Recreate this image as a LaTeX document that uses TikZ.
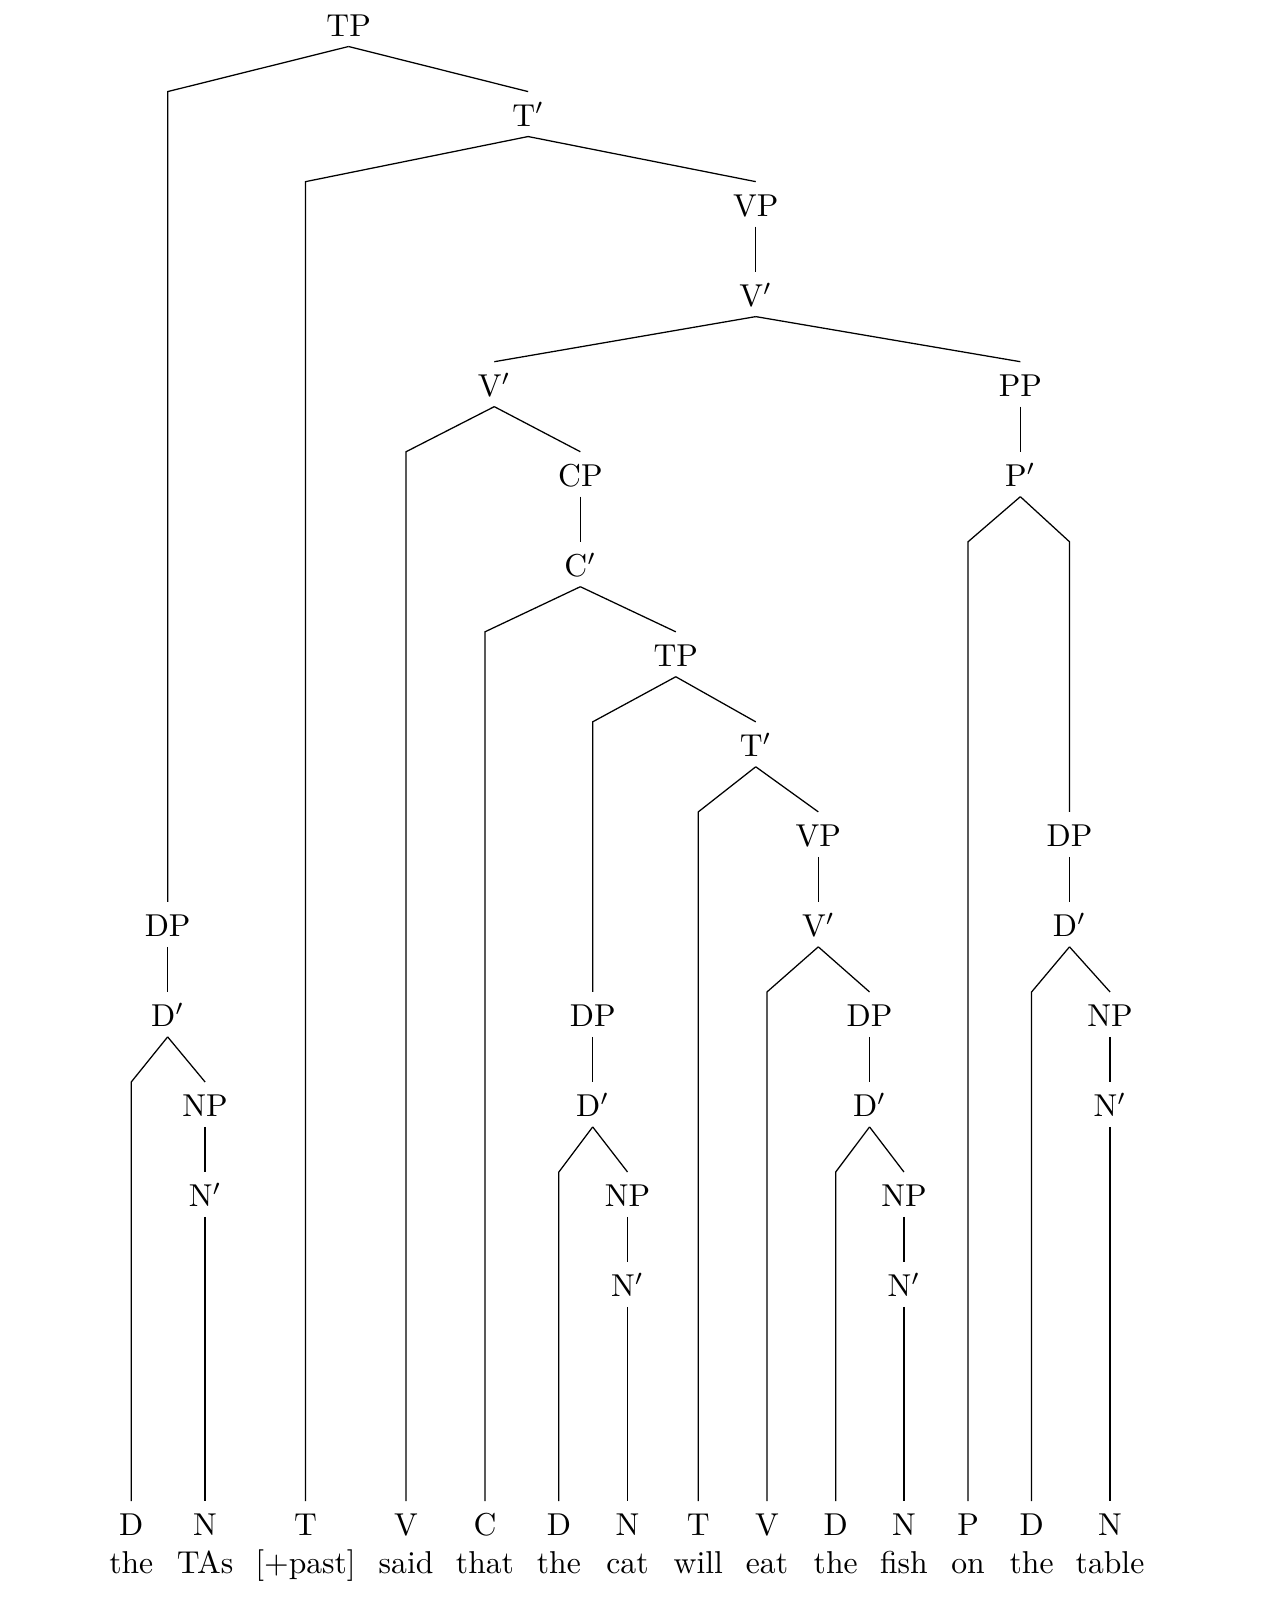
\documentclass[tikz,border=0pt]{standalone}
\usepackage{tikz}
\tikzset{
  cat/.style={anchor=base,inner sep=3pt,text height=7.8pt,text depth=0pt},
  word/.style={anchor=base,inner sep=0pt},
  branch/.style={line width=.4pt}
}
\begin{document}
\begin{tikzpicture}[x=1cm,y=1cm]
\path[use as bounding box] (0,0) rectangle (14.02,-17.86);
% phrase nodes, one level per cm
\node[cat] (tp) at (3.872,-0.404) {TP};
\node[cat] (tbar) at (5.866,-1.404) {T$'$};
\node[cat] (vp) at (8.394,-2.404) {VP};
\node[cat] (vbar) at (8.394,-3.404) {V$'$};
\node[cat] (vbarl) at (5.490,-4.404) {V$'$};
\node[cat] (pp) at (11.333,-4.404) {PP};
\node[cat] (cp) at (6.446,-5.404) {CP};
\node[cat] (pbar) at (11.333,-5.404) {P$'$};
\node[cat] (cbar) at (6.446,-6.404) {C$'$};
\node[cat] (tpe) at (7.506,-7.404) {TP};
\node[cat] (tbare) at (8.394,-8.404) {T$'$};
\node[cat] (vpe) at (9.089,-9.404) {VP};
\node[cat] (dpt) at (11.879,-9.404) {DP};
\node[cat] (dpa) at (1.862,-10.404) {DP};
\node[cat] (vbare) at (9.089,-10.404) {V$'$};
\node[cat] (dbart) at (11.879,-10.404) {D$'$};
\node[cat] (dbara) at (1.862,-11.404) {D$'$};
\node[cat] (dpc) at (6.583,-11.404) {DP};
\node[cat] (dpf) at (9.658,-11.404) {DP};
\node[cat] (npt) at (12.329,-11.404) {NP};
\node[cat] (npa) at (2.278,-12.404) {NP};
\node[cat] (dbarc) at (6.583,-12.404) {D$'$};
\node[cat] (dbarf) at (9.658,-12.404) {D$'$};
\node[cat] (nbart) at (12.329,-12.404) {N$'$};
\node[cat] (nbara) at (2.278,-13.404) {N$'$};
\node[cat] (npc) at (6.970,-13.404) {NP};
\node[cat] (npf) at (10.040,-13.404) {NP};
\node[cat] (nbarc) at (6.970,-14.404) {N$'$};
\node[cat] (nbarf) at (10.040,-14.404) {N$'$};
% leaves
\node[cat] (l1) at (1.458,-17.06) {D};
\node[word] (w1) at (1.458,-17.48) {the};
\node[cat] (l2) at (2.278,-17.06) {N};
\node[word] (w2) at (2.278,-17.48) {TAs};
\node[cat] (l3) at (3.394,-17.06) {T};
\node[word] (w3) at (3.394,-17.48) {[+past]};
\node[cat] (l4) at (4.510,-17.06) {V};
\node[word] (w4) at (4.510,-17.48) {said};
\node[cat] (l5) at (5.387,-17.06) {C};
\node[word] (w5) at (5.387,-17.48) {that};
\node[cat] (l6) at (6.207,-17.06) {D};
\node[word] (w6) at (6.207,-17.48) {the};
\node[cat] (l7) at (6.970,-17.06) {N};
\node[word] (w7) at (6.970,-17.48) {cat};
\node[cat] (l8) at (7.756,-17.06) {T};
\node[word] (w8) at (7.756,-17.48) {will};
\node[cat] (l9) at (8.519,-17.06) {V};
\node[word] (w9) at (8.519,-17.48) {eat};
\node[cat] (l10) at (9.282,-17.06) {D};
\node[word] (w10) at (9.282,-17.48) {the};
\node[cat] (l11) at (10.040,-17.06) {N};
\node[word] (w11) at (10.040,-17.48) {fish};
\node[cat] (l12) at (10.752,-17.06) {P};
\node[word] (w12) at (10.752,-17.48) {on};
\node[cat] (l13) at (11.458,-17.06) {D};
\node[word] (w13) at (11.458,-17.48) {the};
\node[cat] (l14) at (12.329,-17.06) {N};
\node[word] (w14) at (12.329,-17.48) {table};
% branches: straight to the next level, bent when the child sits lower
\draw[branch] (tp.south) -- ([yshift=-1cm]tp.north -| dpa) -- (dpa.north);
\draw[branch] (tp.south) -- (tbar.north);
\draw[branch] (tbar.south) -- ([yshift=-1cm]tbar.north -| l3) -- (l3.north);
\draw[branch] (tbar.south) -- (vp.north);
\draw[branch] (vp.south) -- (vbar.north);
\draw[branch] (vbar.south) -- (vbarl.north);
\draw[branch] (vbar.south) -- (pp.north);
\draw[branch] (vbarl.south) -- ([yshift=-1cm]vbarl.north -| l4) -- (l4.north);
\draw[branch] (vbarl.south) -- (cp.north);
\draw[branch] (cp.south) -- (cbar.north);
\draw[branch] (cbar.south) -- ([yshift=-1cm]cbar.north -| l5) -- (l5.north);
\draw[branch] (cbar.south) -- (tpe.north);
\draw[branch] (tpe.south) -- ([yshift=-1cm]tpe.north -| dpc) -- (dpc.north);
\draw[branch] (tpe.south) -- (tbare.north);
\draw[branch] (tbare.south) -- ([yshift=-1cm]tbare.north -| l8) -- (l8.north);
\draw[branch] (tbare.south) -- (vpe.north);
\draw[branch] (vpe.south) -- (vbare.north);
\draw[branch] (vbare.south) -- ([yshift=-1cm]vbare.north -| l9) -- (l9.north);
\draw[branch] (vbare.south) -- (dpf.north);
\draw[branch] (dpf.south) -- (dbarf.north);
\draw[branch] (dbarf.south) -- ([yshift=-1cm]dbarf.north -| l10) -- (l10.north);
\draw[branch] (dbarf.south) -- (npf.north);
\draw[branch] (npf.south) -- (nbarf.north);
\draw[branch] (nbarf.south) -- (l11.north);
\draw[branch] (pp.south) -- (pbar.north);
\draw[branch] (pbar.south) -- ([yshift=-1cm]pbar.north -| l12) -- (l12.north);
\draw[branch] (pbar.south) -- ([yshift=-1cm]pbar.north -| dpt) -- (dpt.north);
\draw[branch] (dpt.south) -- (dbart.north);
\draw[branch] (dbart.south) -- ([yshift=-1cm]dbart.north -| l13) -- (l13.north);
\draw[branch] (dbart.south) -- (npt.north);
\draw[branch] (npt.south) -- (nbart.north);
\draw[branch] (nbart.south) -- (l14.north);
\draw[branch] (dpa.south) -- (dbara.north);
\draw[branch] (dbara.south) -- ([yshift=-1cm]dbara.north -| l1) -- (l1.north);
\draw[branch] (dbara.south) -- (npa.north);
\draw[branch] (npa.south) -- (nbara.north);
\draw[branch] (nbara.south) -- (l2.north);
\draw[branch] (dpc.south) -- (dbarc.north);
\draw[branch] (dbarc.south) -- ([yshift=-1cm]dbarc.north -| l6) -- (l6.north);
\draw[branch] (dbarc.south) -- (npc.north);
\draw[branch] (npc.south) -- (nbarc.north);
\draw[branch] (nbarc.south) -- (l7.north);
\end{tikzpicture}
\end{document}
